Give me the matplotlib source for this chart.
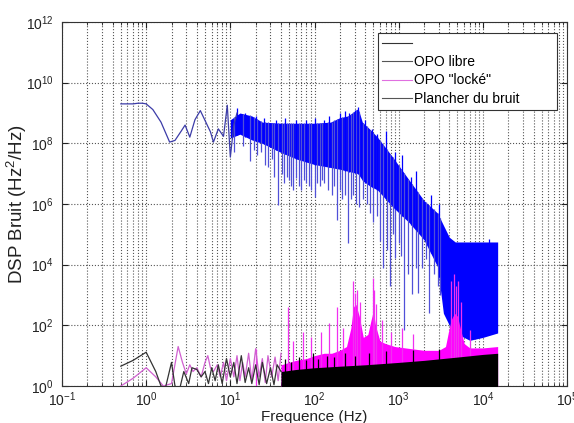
import numpy as np
import matplotlib
matplotlib.use("Agg")
import matplotlib.pyplot as plt
from matplotlib.ticker import LogLocator, FixedLocator, NullLocator, NullFormatter
from matplotlib.lines import Line2D

plt.rcParams['font.family'] = ['Liberation Sans', 'DejaVu Sans']
plt.rcParams['mathtext.default'] = 'regular'

# ---------------- data ----------------
# OPO libre (blue) : low-frequency trace
libre_lo_f = [0.5, 0.6, 0.7, 0.8, 0.9, 1.0, 1.2, 1.5, 1.9, 2.2, 2.6, 2.9, 3.3, 3.8,
              4.4, 5.0, 5.8, 6.3, 7.2, 8.3, 9.2, 10.0, 11.0, 12.0]
libre_lo_v = [2e9, 2e9, 2e9, 2.1e9, 2.1e9, 2e9, 1.3e9, 5e8, 1.1e8, 1.25e8, 2.5e8, 4e8,
              1.6e8, 6e8, 1.2e9, 5.7e8, 2.4e8, 1.1e8, 3e8, 1.7e8, 1.8e9, 3.5e7, 4e8, 1e9]
# OPO libre : dense band (upper / lower envelope)
libre_band_f = [10, 13, 18, 24, 40, 62, 100, 155, 200, 250, 330, 370, 450, 560, 850,
                1340, 2000, 2900, 3400, 4000, 4700, 7000, 10000, 15000]
libre_band_hi = [6e8, 1e9, 8e8, 5e8, 4.6e8, 4.6e8, 4.6e8, 5e8, 7e8, 8e8, 1.4e9, 5e8,
                 3e8, 1.6e8, 3.5e7, 6e6, 1.3e6, 5e5, 2e5, 8e4, 5.6e4, 5.6e4, 5.6e4, 5.6e4]
libre_band_lo = [1.5e8, 2e8, 1.3e8, 1e8, 5e7, 3e7, 2e7, 1.6e7, 1.4e7, 1.2e7, 1e7,
                 6e6, 4e6, 2.9e6, 8e5, 2.4e5, 6.6e4, 8.5e3, 250, 100, 56, 32, 40, 56]
# OPO libre : downward spikes (frequency, minimum)
libre_dn_f = [11, 14, 17, 19, 21, 23, 26, 28, 31, 33, 37, 41, 44, 47, 50, 53, 56, 60,
              65, 70, 75, 80, 85, 90, 100, 108, 115, 122, 130, 145, 160, 172, 185,
              200, 215, 232, 250, 270, 290, 315, 340, 380, 420, 460, 500, 550, 600,
              650, 720, 790, 850, 900, 1000, 1080, 1170, 1300, 1450, 1600, 1700, 1900,
              2100, 2300, 2600, 2900, 3100]
libre_dn_v = [5e7, 8e7, 2.7e7, 6e7, 4e7, 5e7, 2e7, 1.6e7, 3e7, 8e6, 9e5, 1e7, 5e6,
              8e6, 6e6, 4e6, 3e6, 7e6, 4e6, 2.8e6, 6e6, 5e6, 4e6, 3e6, 1.7e6, 5e6,
              4e6, 6e6, 5e6, 3e6, 2e6, 4e6, 3e5, 3e6, 1.5e6, 2e6, 5e4, 1.5e6, 2e6,
              1e6, 8e5, 1.5e6, 1e6, 5e5, 2.5e5, 4e5, 6e4, 8e3, 3e4, 2e3, 1e5, 1.7e4,
              5e4, 2e4, 70, 5e3, 1.1e3, 8e3, 1.2e3, 8e3, 1.5e4, 250, 5e3, 2e3, 1e3]
# OPO libre : upward spikes
libre_up_f = [12, 15, 20, 25, 35, 45, 60, 80, 100, 130, 150, 200, 230, 260, 300, 330,
              400, 480, 550, 700, 900, 1100, 1400, 1600, 2400, 3000, 12000]
libre_up_v = [1.5e9, 1e9, 8e8, 7e8, 6e8, 7e8, 6e8, 6e8, 7e8, 6e8, 8e8, 1e9, 1.2e9,
              1e9, 1.3e9, 1.6e9, 6e8, 3e8, 2e8, 2.5e8, 5e7, 4e7, 8e6, 1.2e7, 2e6, 1e6,
              7e4]

# OPO "locké" (magenta)
locke_lo_f = [0.5, 0.7, 1.0, 1.3, 1.6, 2.0, 2.4, 2.7, 3.0, 3.3, 3.6, 4.0, 4.5, 5.0,
              5.4, 5.8, 6.3, 7.0, 7.6, 8.3, 9.0, 10, 11, 12, 13, 14, 15, 16.5, 18,
              20, 22, 24, 26, 28, 31, 34, 37, 40]
locke_lo_v = [1.0, 1.8, 4.0, 2.0, 1.0, 1.2, 20, 6, 2.5, 5, 3, 4, 2, 6, 10, 4, 3, 5, 2,
              6, 1.5, 8, 2, 10, 1.5, 6, 2, 12, 1.5, 17, 2, 8, 1.3, 10, 2, 9, 1.5, 12]
locke_band_f = [40, 50, 60, 80, 100, 130, 160, 200, 240, 270, 290, 310, 340, 380, 430,
                470, 500, 530, 600, 700, 900, 1200, 2000, 3000, 3600, 3900, 4200,
                4600, 5000, 5400, 6000, 7000, 10000, 15000]
locke_band_hi = [5, 6, 7, 8, 10, 12, 12, 15, 20, 80, 400, 500, 200, 40, 50, 150, 300,
                 100, 30, 25, 20, 18, 15, 15, 20, 60, 150, 250, 200, 80, 25, 18, 18, 20]
locke_up_f = [20, 48, 55, 73, 90, 120, 150, 184, 220, 285, 300, 320, 350, 490, 510,
              540, 640, 800, 1100, 1500, 4200, 4500, 4800, 5100, 5500, 7000]
locke_up_v = [17, 400, 30, 60, 40, 60, 115, 390, 80, 3000, 1200, 1500, 600, 3700, 1500,
              500, 150, 60, 80, 50, 3000, 5000, 2000, 3000, 600, 70]

# Plancher du bruit (black)
floor_lo_f = [0.5, 0.7, 1.0, 1.3, 1.5, 1.7, 2.0, 2.2, 2.5, 2.8, 3.2, 3.5, 4.0, 4.5,
              5, 5.5, 6, 6.6, 7.2, 8, 9, 10, 11, 12, 13.5, 15, 16.5, 18, 20, 22, 24,
              27, 30, 33, 36, 40]
floor_lo_v = [4.5, 7, 13, 3, 1, 0.9, 6, 1, 0.8, 3, 1.2, 4, 3.5, 2, 3, 1.2, 4, 1.5, 5,
              1.2, 8, 2, 6, 1.2, 10, 1.3, 4, 1.2, 5, 1.1, 6, 1.2, 4, 1.1, 5, 3]
floor_band_f = [40, 60, 100, 200, 400, 1000, 2000, 5000, 10000, 15000]
floor_band_hi = [3, 3.5, 4, 4.5, 5, 6, 7, 9, 11, 12]
floor_up_f = [45, 52, 65, 80, 95, 110, 140, 170, 230, 300, 450, 700, 1500, 3000]
floor_up_v = [8, 6, 9, 7, 12, 8, 10, 9, 12, 10, 12, 14, 15, 16]

legend_labels = ['', 'OPO libre', 'OPO "locké"', 'Plancher du bruit']

# ---------------- figure ----------------
fig = plt.figure(figsize=(5.74, 4.23), dpi=100)
ax = fig.add_axes([62/574, 1-386/423, (567-62)/574, (386-22)/423])
ax.set_xscale('log')
ax.set_yscale('log')

def logi(x, xp, fp):
    return 10**np.interp(np.log10(x), np.log10(xp), np.log10(fp))

BLUE = '#0000ff'
MAG = '#ff00ff'
BOTTOM = 0.3

# blue
ax.fill_between(libre_band_f, libre_band_lo, libre_band_hi, color=BLUE, lw=0, zorder=2)
ax.vlines(libre_dn_f, libre_dn_v, logi(libre_dn_f, libre_band_f, libre_band_hi),
          color='#5050d8', lw=0.9, zorder=2)
ax.vlines(libre_up_f, logi(libre_up_f, libre_band_f, libre_band_lo), libre_up_v,
          color=BLUE, lw=0.9, zorder=2)
ax.plot(libre_lo_f, libre_lo_v, color='#3c3ca8', lw=0.9, zorder=2)

# magenta
ax.fill_between(locke_band_f, BOTTOM, locke_band_hi, color=MAG, lw=0, zorder=3)
ax.vlines(locke_up_f, BOTTOM, locke_up_v, color='#f030f0', lw=0.9, zorder=3)
ax.plot(locke_lo_f, locke_lo_v, color='#d060d0', lw=0.9, zorder=3)

# black
ax.fill_between(floor_band_f, BOTTOM, floor_band_hi, color='black', lw=0, zorder=4)
ax.vlines(floor_up_f, BOTTOM, floor_up_v, color='black', lw=0.9, zorder=4)
ax.plot(floor_lo_f, floor_lo_v, color='#333333', lw=0.9, zorder=4)

ax.set_xlim(1e-1, 1e5)
ax.set_ylim(1e0, 1e12)

ax.xaxis.set_major_locator(LogLocator(base=10, numticks=100))
ax.xaxis.set_minor_locator(LogLocator(base=10, subs=np.arange(2, 10), numticks=100))
ax.xaxis.set_minor_formatter(NullFormatter())
ax.yaxis.set_major_locator(FixedLocator([10.0**k for k in range(0, 13, 2)]))
ax.yaxis.set_minor_locator(NullLocator())

ax.grid(True, which='both', axis='x', ls=':', color='#555555', lw=0.8, zorder=0)
ax.grid(True, which='major', axis='y', ls=':', color='#555555', lw=0.8, zorder=0)
ax.set_axisbelow(True)

ax.tick_params(which='both', direction='in', top=True, right=True, labelsize=10,
               colors='#222222')
ax.tick_params(axis='x', which='major', length=4, pad=3.5)
ax.tick_params(axis='y', which='major', length=4, pad=6)
ax.tick_params(which='minor', length=2)
for s in ax.spines.values():
    s.set_color('#333333')
    s.set_linewidth(0.8)

ax.set_xlabel('Frequence (Hz)', fontsize=11, color='#222222', labelpad=0)
ax.set_ylabel('DSP Bruit (Hz$^2$/Hz)', fontsize=13.5, color='#222222')
ax.yaxis.set_label_coords((29 - 62) / 505, 0.5)
ax.xaxis.set_label_coords(0.5, (386 - 409.5) / 364)

handles = [Line2D([], [], color='#333333', lw=0.8),
           Line2D([], [], color='#555555', lw=0.8),
           Line2D([], [], color='#e070e0', lw=0.8),
           Line2D([], [], color='#555555', lw=0.8)]
x0 = (378-62)/505
y1 = (386-33)/364
leg = ax.legend(handles, legend_labels, loc='upper left',
                bbox_to_anchor=(x0, y1 - 0.3, (557-62)/505 - x0, 0.3), mode='expand',
                fontsize=10, frameon=True, fancybox=False, edgecolor='#333333',
                framealpha=1, borderaxespad=0, borderpad=0.3, labelspacing=0.3,
                handlelength=2.15, handletextpad=0.15)
leg.get_frame().set_linewidth(0.8)
leg.set_zorder(10)

fig.savefig('out.png', dpi=100)
